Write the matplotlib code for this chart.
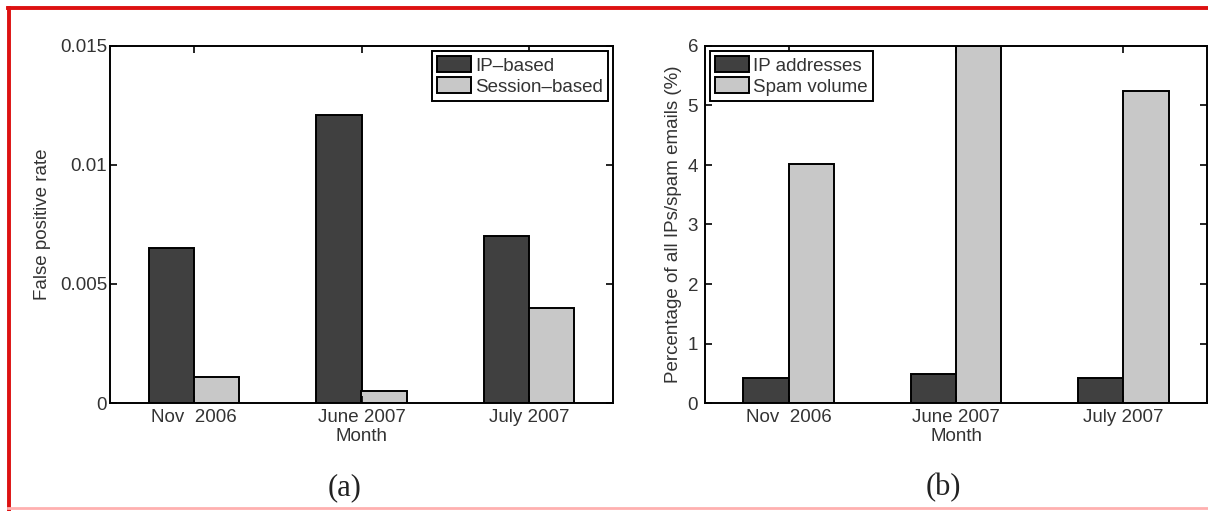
import matplotlib
matplotlib.use("Agg")
import matplotlib.pyplot as plt
import numpy as np
from matplotlib.lines import Line2D

months = ["Nov  2006", "June 2007", "July 2007"]

# (a) false positive rate per month
ip_based = [0.0065, 0.0121, 0.0070]
session_based = [0.0011, 0.0005, 0.0040]

# (b) share of all IPs / spam emails, in percent
ip_addresses = [0.42, 0.49, 0.42]
spam_volume = [4.02, 6.0, 5.24]

dark = "#404040"
light = "#c8c8c8"
txt = "#333333"
fs = 13.5

plt.rcParams["font.family"] = ["Liberation Sans", "DejaVu Sans"]
plt.rcParams["font.size"] = fs

fig = plt.figure(figsize=(12.08, 5.11), dpi=100)
fig.patch.set_facecolor("white")

ax1 = fig.add_axes([110 / 1208, 1 - 403 / 511, 503 / 1208, 357 / 511])
ax2 = fig.add_axes([705 / 1208, 1 - 403 / 511, 502 / 1208, 357 / 511])

x = np.arange(1, 4)
w = 0.27


def grouped(ax, a, b, la, lb, ymax, yticks, ylabel, legend_loc, ypad, ylab_x):
    ax.bar(x - w / 2, a, w, color=dark, edgecolor="black", linewidth=1.4, label=la)
    ax.bar(x + w / 2, b, w, color=light, edgecolor="black", linewidth=1.4, label=lb)
    ax.set_xlim(0.5, 3.5)
    ax.set_ylim(0, ymax)
    ax.set_xticks(x)
    ax.set_xticklabels(months, color=txt)
    ax.set_yticks(yticks)
    ax.tick_params(direction="in", top=True, right=True, length=5, width=1.2,
                   labelsize=fs, labelcolor=txt)
    ax.tick_params(axis="x", pad=4)
    ax.tick_params(axis="y", pad=ypad)
    for s in ax.spines.values():
        s.set_linewidth(1.4)
    ax.set_xlabel("Month", color=txt, fontsize=fs, labelpad=2)
    ax.set_ylabel(ylabel, color=txt, fontsize=fs)
    ax.yaxis.set_label_coords(ylab_x, 0.5)
    leg = ax.legend(loc=legend_loc, fancybox=False, framealpha=1, edgecolor="black",
                    fontsize=fs, handlelength=1.8, handleheight=0.9,
                    handletextpad=0.2, borderpad=0.3, labelspacing=0.15,
                    borderaxespad=0.25)
    leg.get_frame().set_linewidth(1.4)
    for t in leg.get_texts():
        t.set_color(txt)


grouped(ax1, ip_based, session_based, "IP\u2013based", "Session\u2013based",
        0.015, [0, 0.005, 0.01, 0.015], "False positive rate", "upper right",
        2, -0.117)
ax1.set_yticklabels(["0", "0.005", "0.01", "0.015"])

grouped(ax2, ip_addresses, spam_volume, "IP addresses", "Spam volume",
        6, range(7), "Percentage of all IPs/spam emails (%)", "upper left",
        5, -0.046)

fig.text(345 / 1208, 1 - 488 / 511, "(a)", ha="center", va="center",
         family="Liberation Serif", fontsize=22, color="#222222")
fig.text(943 / 1208, 1 - 488 / 511, "(b)", ha="center", va="center",
         family="Liberation Serif", fontsize=22, color="#222222")

# red frame around the figure
red = "#dd1111"
fig.add_artist(Line2D([8 / 1208, 1], [1 - 8.5 / 511] * 2, color=red, lw=2.8,
                      transform=fig.transFigure))
fig.add_artist(Line2D([8.5 / 1208] * 2, [1 - 8 / 511, 0], color=red, lw=2.8,
                      transform=fig.transFigure))
fig.add_artist(Line2D([8 / 1208, 1], [1 - 508 / 511] * 2, color="#ffb0b0", lw=2,
                      transform=fig.transFigure))

fig.savefig("out.png", dpi=100)
